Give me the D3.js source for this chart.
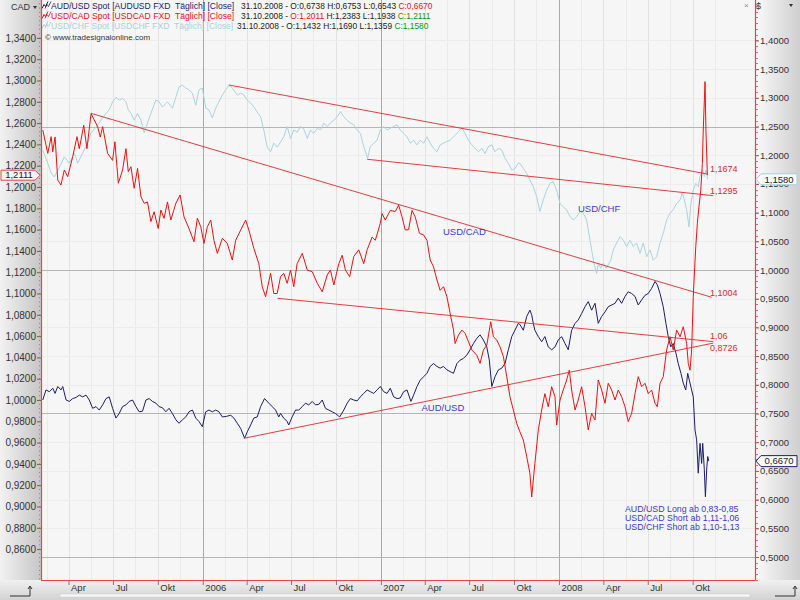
<!DOCTYPE html>
<html><head><meta charset="utf-8">
<script src="https://cdn.jsdelivr.net/npm/d3@7"></script>
<style>
body{margin:0;background:#fff}
svg{display:block}
text{font-family:"Liberation Sans",Arial,sans-serif}
</style>
</head><body>
<svg id="c" width="800" height="600"></svg>
<script>
// ---------------- DATA (time in decimal years) ----------------
const cadTime = [2005.102,2005.130,2005.149,2005.158,2005.171,2005.186,2005.204,2005.223,2005.242,2005.270,
2005.294,2005.307,2005.332,2005.350,2005.373,2005.391,2005.410,2005.425,2005.438,2005.466,
2005.494,2005.507,2005.526,2005.550,2005.569,2005.582,2005.597,2005.615,2005.634,2005.653,
2005.671,2005.690,2005.709,2005.727,2005.750,2005.765,2005.783,2005.802,2005.821,2005.849,
2005.873,2005.895,2005.923,2005.951,2005.970,2005.989,2006.007,2006.026,2006.045,2006.063,
2006.082,2006.110,2006.138,2006.166,2006.185,2006.213,2006.241,2006.259,2006.287,2006.315,
2006.334,2006.353,2006.381,2006.399,2006.418,2006.437,2006.455,2006.474,2006.493,2006.511,
2006.530,2006.559,2006.587,2006.615,2006.643,2006.671,2006.699,2006.717,2006.736,2006.764,
2006.783,2006.801,2006.825,2006.848,2006.876,2006.904,2006.923,2006.951,2006.969,2006.997,
2007.007,2007.025,2007.053,2007.081,2007.100,2007.119,2007.137,2007.156,2007.175,2007.193,
2007.217,2007.240,2007.259,2007.277,2007.296,2007.315,2007.333,2007.352,2007.371,2007.389,
2007.408,2007.417,2007.436,2007.455,2007.473,2007.492,2007.511,2007.539,2007.557,2007.576,
2007.595,2007.617,2007.632,2007.651,2007.669,2007.688,2007.707,2007.725,2007.744,2007.763,
2007.781,2007.800,2007.819,2007.837,2007.847,2007.865,2007.884,2007.903,2007.921,2007.940,
2007.959,2007.978,2007.987,2008.006,2008.024,2008.043,2008.058,2008.071,2008.090,2008.108,
2008.127,2008.146,2008.164,2008.183,2008.202,2008.220,2008.239,2008.258,2008.276,2008.295,
2008.314,2008.332,2008.351,2008.370,2008.388,2008.407,2008.426,2008.444,2008.463,2008.482,
2008.500,2008.519,2008.538,2008.551,2008.566,2008.584,2008.603,2008.622,2008.640,2008.659,
2008.678,2008.696,2008.715,2008.724,2008.734,2008.743,2008.752,2008.766,2008.775,2008.784,
2008.794,2008.803,2008.808,2008.818,2008.823,2008.831];
const cadValue = [1.2535,1.2316,1.2473,1.233,1.247,1.2066,1.2019,1.216,1.2097,1.2285,
1.2473,1.236,1.258,1.236,1.269,1.263,1.2567,1.247,1.2567,1.2316,
1.225,1.2425,1.2035,1.216,1.236,1.2144,1.219,1.1988,1.2175,1.191,
1.1847,1.186,1.1675,1.1768,1.161,1.1784,1.1706,1.186,1.169,1.1847,
1.1925,1.172,1.161,1.1486,1.1706,1.1627,1.147,1.1627,1.169,1.150,
1.1377,1.1518,1.147,1.1315,1.150,1.1596,1.169,1.1596,1.1424,1.128,
1.1064,1.097,1.119,1.100,1.100,1.1158,1.119,1.1096,1.122,1.1064,
1.128,1.1377,1.122,1.1205,1.1096,1.1017,1.1174,1.122,1.108,1.128,
1.136,1.122,1.1158,1.1347,1.141,1.128,1.141,1.153,1.150,1.166,
1.175,1.169,1.178,1.177,1.183,1.172,1.1596,1.160,1.178,1.172,
1.1565,1.155,1.150,1.1315,1.125,1.1127,1.103,1.1064,1.097,1.0814,
1.0657,1.053,1.061,1.0657,1.0626,1.0547,1.047,1.042,1.0344,1.047,
1.0516,1.0735,1.0594,1.0563,1.05,1.0407,1.0219,1.003,0.9906,0.978,
0.970,0.9624,0.9468,0.931,0.909,0.9405,0.9718,0.9906,1.006,0.9937,
1.0125,1.003,0.9765,1.000,1.0094,1.0188,1.028,1.0094,0.9906,1.000,
1.0125,0.9937,0.972,0.9875,0.9812,1.0188,1.0094,0.9969,1.0157,1.0094,
1.000,1.0094,1.003,0.9937,0.9797,0.9875,1.006,1.0219,1.0125,1.0157,
1.006,1.0094,0.9969,0.9937,1.0157,1.0219,1.047,1.0594,1.047,1.0657,
1.0594,1.0688,1.053,1.0344,1.028,1.047,1.097,1.144,1.166,1.1815,
1.197,1.222,1.2535,1.299,1.2535,1.2111];

const audTime = [2005.102,2005.120,2005.139,2005.158,2005.171,2005.186,2005.204,2005.214,2005.233,2005.251,
2005.270,2005.289,2005.307,2005.326,2005.345,2005.363,2005.382,2005.401,2005.419,2005.438,
2005.457,2005.475,2005.494,2005.513,2005.531,2005.550,2005.569,2005.587,2005.606,2005.625,
2005.643,2005.662,2005.681,2005.699,2005.718,2005.737,2005.755,2005.774,2005.793,2005.811,
2005.830,2005.849,2005.867,2005.886,2005.905,2005.923,2005.942,2005.961,2005.979,2005.998,
2006.017,2006.035,2006.054,2006.073,2006.091,2006.110,2006.134,2006.157,2006.175,2006.194,
2006.213,2006.235,2006.250,2006.269,2006.287,2006.306,2006.325,2006.347,2006.371,2006.390,
2006.409,2006.427,2006.437,2006.455,2006.474,2006.483,2006.502,2006.521,2006.539,2006.559,
2006.577,2006.595,2006.615,2006.633,2006.652,2006.671,2006.689,2006.708,2006.727,2006.745,
2006.769,2006.792,2006.811,2006.829,2006.848,2006.867,2006.885,2006.904,2006.923,2006.941,
2006.960,2006.979,2006.997,2007.016,2007.035,2007.053,2007.072,2007.091,2007.109,2007.128,
2007.147,2007.169,2007.184,2007.203,2007.221,2007.240,2007.259,2007.277,2007.296,2007.315,
2007.333,2007.352,2007.371,2007.389,2007.408,2007.427,2007.445,2007.464,2007.483,2007.501,
2007.520,2007.539,2007.557,2007.576,2007.595,2007.609,2007.623,2007.641,2007.660,2007.679,
2007.697,2007.716,2007.735,2007.753,2007.772,2007.781,2007.800,2007.819,2007.837,2007.847,
2007.856,2007.865,2007.884,2007.903,2007.921,2007.940,2007.959,2007.978,2007.996,2008.015,
2008.034,2008.052,2008.071,2008.090,2008.108,2008.127,2008.146,2008.164,2008.183,2008.202,
2008.220,2008.239,2008.258,2008.276,2008.295,2008.314,2008.332,2008.351,2008.370,2008.388,
2008.407,2008.426,2008.444,2008.463,2008.482,2008.500,2008.519,2008.538,2008.551,2008.566,
2008.584,2008.599,2008.612,2008.626,2008.640,2008.655,2008.668,2008.683,2008.696,2008.710,
2008.721,2008.730,2008.743,2008.752,2008.762,2008.771,2008.780,2008.790,2008.799,2008.805,
2008.814,2008.820,2008.828,2008.833,2008.839];
const audValue = [0.7735,0.791,0.788,0.794,0.785,0.797,0.791,0.797,0.7735,0.771,
0.776,0.778,0.782,0.779,0.782,0.7735,0.759,0.762,0.756,0.765,
0.776,0.779,0.759,0.742,0.750,0.762,0.765,0.771,0.7735,0.762,
0.753,0.754,0.7735,0.776,0.771,0.768,0.762,0.760,0.753,0.759,
0.750,0.739,0.733,0.739,0.744,0.753,0.756,0.742,0.736,0.727,
0.753,0.756,0.753,0.756,0.753,0.744,0.745,0.747,0.742,0.733,
0.724,0.707,0.718,0.730,0.742,0.744,0.762,0.776,0.768,0.762,
0.756,0.744,0.750,0.742,0.736,0.730,0.744,0.756,0.756,0.762,
0.768,0.765,0.771,0.765,0.766,0.7735,0.759,0.756,0.753,0.750,
0.744,0.756,0.768,0.776,0.7735,0.772,0.779,0.785,0.791,0.788,
0.785,0.791,0.797,0.788,0.785,0.794,0.779,0.776,0.777,0.788,
0.791,0.771,0.782,0.797,0.808,0.814,0.820,0.832,0.837,0.832,
0.829,0.832,0.826,0.823,0.820,0.837,0.843,0.846,0.852,0.861,
0.872,0.881,0.887,0.878,0.866,0.843,0.797,0.814,0.826,0.829,
0.837,0.861,0.884,0.895,0.907,0.905,0.895,0.919,0.930,0.922,
0.907,0.895,0.884,0.875,0.884,0.866,0.861,0.866,0.878,0.884,
0.872,0.861,0.895,0.907,0.913,0.924,0.936,0.945,0.930,0.942,
0.907,0.919,0.927,0.936,0.939,0.942,0.951,0.942,0.954,0.962,
0.959,0.954,0.939,0.948,0.956,0.959,0.968,0.980,0.974,0.959,
0.936,0.907,0.884,0.866,0.872,0.855,0.837,0.820,0.803,0.791,
0.820,0.808,0.791,0.779,0.721,0.704,0.646,0.698,0.663,0.698,
0.652,0.605,0.657,0.675,0.667];

const chfTime = [2005.102,2005.130,2005.149,2005.167,2005.195,2005.223,2005.251,2005.279,2005.298,2005.326,
2005.354,2005.373,2005.401,2005.429,2005.457,2005.475,2005.494,2005.513,2005.531,2005.550,
2005.569,2005.582,2005.597,2005.615,2005.634,2005.653,2005.671,2005.690,2005.709,2005.737,
2005.755,2005.774,2005.802,2005.830,2005.849,2005.867,2005.886,2005.905,2005.923,2005.942,
2005.961,2005.979,2005.998,2006.017,2006.035,2006.054,2006.073,2006.091,2006.110,2006.129,
2006.147,2006.166,2006.194,2006.213,2006.231,2006.250,2006.269,2006.287,2006.306,2006.325,
2006.343,2006.362,2006.381,2006.399,2006.418,2006.437,2006.455,2006.474,2006.493,2006.511,
2006.530,2006.549,2006.567,2006.587,2006.605,2006.623,2006.643,2006.661,2006.680,2006.699,
2006.717,2006.736,2006.755,2006.773,2006.792,2006.811,2006.829,2006.848,2006.867,2006.885,
2006.904,2006.926,2006.941,2006.960,2006.979,2006.997,2007.016,2007.035,2007.053,2007.072,
2007.091,2007.109,2007.128,2007.147,2007.165,2007.184,2007.203,2007.221,2007.240,2007.259,
2007.277,2007.296,2007.315,2007.333,2007.352,2007.371,2007.389,2007.408,2007.427,2007.455,
2007.473,2007.492,2007.511,2007.529,2007.548,2007.567,2007.585,2007.604,2007.623,2007.641,
2007.660,2007.679,2007.697,2007.716,2007.735,2007.753,2007.772,2007.781,2007.800,2007.819,
2007.837,2007.856,2007.875,2007.893,2007.912,2007.931,2007.950,2007.968,2007.987,2008.006,
2008.024,2008.043,2008.062,2008.080,2008.099,2008.118,2008.136,2008.155,2008.164,2008.174,
2008.183,2008.196,2008.211,2008.220,2008.234,2008.248,2008.263,2008.276,2008.290,2008.304,
2008.323,2008.342,2008.360,2008.379,2008.398,2008.416,2008.435,2008.454,2008.472,2008.491,
2008.510,2008.528,2008.547,2008.566,2008.584,2008.603,2008.622,2008.640,2008.659,2008.678,
2008.691,2008.702,2008.715,2008.728,2008.739,2008.752,2008.766,2008.780,2008.790,2008.805,
2008.814,2008.823,2008.833];
const chfValue = [1.209,1.186,1.169,1.162,1.179,1.197,1.186,1.204,1.186,1.204,
1.221,1.239,1.249,1.261,1.273,1.279,1.293,1.301,1.296,1.299,
1.293,1.279,1.273,1.261,1.273,1.261,1.239,1.256,1.273,1.296,
1.293,1.284,1.293,1.282,1.301,1.319,1.322,1.317,1.314,1.308,
1.287,1.314,1.317,1.282,1.279,1.265,1.282,1.293,1.305,1.314,
1.322,1.317,1.305,1.308,1.305,1.296,1.291,1.284,1.275,1.267,
1.244,1.214,1.206,1.221,1.214,1.223,1.232,1.250,1.229,1.244,
1.240,1.250,1.246,1.229,1.244,1.238,1.247,1.244,1.256,1.250,
1.256,1.261,1.267,1.276,1.267,1.261,1.256,1.253,1.244,1.238,
1.215,1.195,1.215,1.221,1.226,1.244,1.250,1.244,1.247,1.250,
1.253,1.244,1.238,1.232,1.221,1.226,1.218,1.226,1.221,1.232,
1.221,1.212,1.206,1.218,1.221,1.224,1.226,1.232,1.238,1.247,
1.238,1.226,1.218,1.212,1.206,1.212,1.203,1.215,1.218,1.206,
1.212,1.209,1.195,1.186,1.174,1.177,1.186,1.186,1.177,1.168,
1.157,1.145,1.128,1.102,1.122,1.139,1.151,1.154,1.139,1.116,
1.110,1.105,1.093,1.087,1.093,1.102,1.099,1.087,1.070,1.052,
1.035,1.012,0.994,1.012,1.003,1.012,1.003,1.009,1.017,1.035,
1.047,1.058,1.052,1.041,1.052,1.041,1.047,1.029,1.047,1.023,
1.035,1.017,1.023,1.047,1.064,1.087,1.099,1.105,1.116,1.122,
1.134,1.122,1.105,1.075,1.116,1.139,1.151,1.145,1.163,1.174,
1.163,1.174,1.158];

// trend lines drawn on the chart
const trendStartTime = [2006.147, 2006.923, 2005.373, 2006.420, 2006.231];
const trendStartValue = [1.3223, 1.1929, 1.2692, 1.0955, 0.7068];
const trendEndTime = [2008.827, 2008.864, 2008.855, 2008.864, 2008.864];
const trendEndValue = [1.1674, 1.1295, 1.0965, 1.0548, 0.8726];
const trendAxis = ["right", "right", "left", "left", "right"];
const trendLabels = ["1,1674", "1,1295", "1,1004", "1,06", "0,8726"];

// axis ticks
const leftTicks = [0.86,0.88,0.90,0.92,0.94,0.96,0.98,1.00,1.02,1.04,1.06,1.08,1.10,1.12,1.14,1.16,1.18,1.20,1.22,1.24,1.26,1.28,1.30,1.32,1.34];
const rightTicks = [0.50,0.55,0.60,0.65,0.70,0.75,0.80,0.85,0.90,0.95,1.00,1.05,1.10,1.15,1.20,1.25,1.30,1.35,1.40];
const rightMajorGrid = [0.50,0.75,1.00,1.25];
const quarterDates = ["2005-04-01","2005-07-01","2005-10-01","2006-01-01","2006-04-01","2006-07-01","2006-10-01","2007-01-01","2007-04-01","2007-07-01","2007-10-01","2008-01-01","2008-04-01","2008-07-01","2008-10-01"];
const quarterLabels = ["Apr","Jul","Okt","2006","Apr","Jul","Okt","2007","Apr","Jul","Okt","2008","Apr","Jul","Okt"];
const yearDates = ["2006-01-01","2007-01-01","2008-01-01"];

// legend / texts
const legendNames = ["AUD/USD Spot [AUDUSD FXD  Täglich] [Close]","USD/CAD Spot [USDCAD FXD  Täglich] [Close]","USD/CHF Spot [USDCHF FXD  Täglich] [Close]"];
const legendDate = "31.10.2008";
const legendO = ["O:0,6738","O:1,2011","O:1,1432"];
const legendH = ["H:0,6753","H:1,2383","H:1,1690"];
const legendL = ["L:0,6543","L:1,1938","L:1,1359"];
const legendC = ["C:0,6670","C:1,2111","C:1,1580"];
const lastValues = {cad: 1.2111, aud: 0.6670, chf: 1.1580};
const noteLines = ["AUD/USD Long ab 0,83-0,85","USD/CAD Short ab 1,11-1,06","USD/CHF Short ab 1,10-1,13"];

// ---------------- STYLE ----------------
const COL = {cad:"#f01010", aud:"#1c1c6c", chf:"#a9d4e0", trend:"#e02a2a", note:"#3b3bd0", axis:"#e24848", tickText:"#333"};
const plot = {l:41, r:755, t:0, b:580};

const yd = t => { const y = Math.floor(t); const s = Date.UTC(y,0,1), e = Date.UTC(y+1,0,1); return new Date(s + (t-y)*(e-s)); };
const x = d3.scaleUtc().domain([yd(2005.092), yd(2009.098)]).range([plot.l, plot.r]);
const yL = d3.scaleLinear().domain([0.831, 1.3756]).range([plot.b, plot.t]);
const yR = d3.scaleLinear().domain([0.4599, 1.4704]).range([plot.b, plot.t]);
const fmt4 = d => d3.format(".4f")(d).replace(".", ",");

const svg = d3.select("#c");
const defs = svg.append("defs");
const gl = defs.append("linearGradient").attr("id","gLeft").attr("x1",0).attr("x2",1).attr("y1",0).attr("y2",0);
gl.append("stop").attr("offset","0%").attr("stop-color","#f2f2f2");
gl.append("stop").attr("offset","100%").attr("stop-color","#c6c6c6");
const gr = defs.append("linearGradient").attr("id","gRight").attr("x1",0).attr("x2",1).attr("y1",0).attr("y2",0);
gr.append("stop").attr("offset","0%").attr("stop-color","#fafafa");
gr.append("stop").attr("offset","100%").attr("stop-color","#cfcfcf");
const gb = defs.append("linearGradient").attr("id","gBot").attr("x1",0).attr("x2",0).attr("y1",0).attr("y2",1);
gb.append("stop").attr("offset","0%").attr("stop-color","#f0f0f0");
gb.append("stop").attr("offset","100%").attr("stop-color","#d2d2d2");
defs.append("clipPath").attr("id","clip").append("rect").attr("x",plot.l).attr("y",plot.t).attr("width",plot.r-plot.l).attr("height",plot.b-plot.t);

svg.append("rect").attr("width",800).attr("height",600).attr("fill","#fff");
svg.append("rect").attr("x",0).attr("y",0).attr("width",plot.l).attr("height",plot.b).attr("fill","url(#gLeft)");
svg.append("rect").attr("x",plot.r).attr("y",0).attr("width",800-plot.r).attr("height",plot.b).attr("fill","url(#gRight)");
svg.append("rect").attr("x",0).attr("y",plot.b).attr("width",800).attr("height",600-plot.b).attr("fill","url(#gBot)");
svg.append("rect").attr("x",plot.l).attr("y",plot.t).attr("width",plot.r-plot.l).attr("height",plot.b-plot.t).attr("fill","#f6f6f6");

// faint grid
const grid = svg.append("g").attr("clip-path","url(#clip)");
const qDates = quarterDates.map(d => new Date(d));
const midQuarter = [new Date("2005-02-15")].concat(qDates.map(d => d3.utcDay.offset(d, 46)));
grid.selectAll(".fm").data(midQuarter).enter().append("line")
  .attr("x1",d=>Math.round(x(d))+0.5).attr("x2",d=>Math.round(x(d))+0.5).attr("y1",plot.t).attr("y2",plot.b)
  .attr("stroke","#ebebeb").attr("stroke-width",1);
grid.selectAll(".fq").data(qDates).enter().append("line")
  .attr("x1",d=>Math.round(x(d))+0.5).attr("x2",d=>Math.round(x(d))+0.5).attr("y1",plot.t).attr("y2",plot.b)
  .attr("stroke","#e2e2e2").attr("stroke-width",1);
grid.selectAll(".fh").data(rightTicks).enter().append("line")
  .attr("x1",plot.l).attr("x2",plot.r).attr("y1",d=>Math.round(yR(d))+0.5).attr("y2",d=>Math.round(yR(d))+0.5)
  .attr("stroke","#ededed").attr("stroke-width",1);
grid.selectAll(".gy").data(yearDates.map(d=>new Date(d))).enter().append("line")
  .attr("x1",d=>Math.round(x(d))+0.5).attr("x2",d=>Math.round(x(d))+0.5).attr("y1",plot.t).attr("y2",plot.b)
  .attr("stroke","#a9a9a9").attr("stroke-width",1);
grid.selectAll(".gh").data(rightMajorGrid).enter().append("line")
  .attr("x1",plot.l).attr("x2",plot.r).attr("y1",d=>Math.round(yR(d))+0.5).attr("y2",d=>Math.round(yR(d))+0.5)
  .attr("stroke","#b5b5b5").attr("stroke-width",1);

// series
const series = [
  {t:chfTime, v:chfValue, y:yR, c:COL.chf},
  {t:audTime, v:audValue, y:yR, c:COL.aud},
  {t:cadTime, v:cadValue, y:yL, c:COL.cad}
];
const sg = svg.append("g").attr("clip-path","url(#clip)");
series.forEach(s => {
  const pts = d3.range(Math.min(s.t.length, s.v.length)).map(i => [yd(s.t[i]), s.v[i]]);
  const line = d3.line().x(d => x(d[0])).y(d => s.y(d[1]));
  sg.append("path").datum(pts).attr("d", line).attr("fill","none").attr("stroke", s.c).attr("stroke-width",1).attr("stroke-linejoin","round");
});

// trend lines
const trendDy = [-1.5, -1.7, -1.2, -2.6, 7.4];
trendStartTime.forEach((t0,i) => {
  const sc = trendAxis[i] === "left" ? yL : yR;
  const x0 = x(yd(t0)), y0 = sc(trendStartValue[i]);
  const x1 = x(yd(trendEndTime[i])), y1 = sc(trendEndValue[i]);
  sg.append("line").attr("x1",x0).attr("y1",y0).attr("x2",x1).attr("y2",y1).attr("stroke",COL.trend).attr("stroke-width",0.9);
  svg.append("text").attr("x", 710).attr("y", y1 + trendDy[i]).attr("font-size",9).attr("fill",COL.trend).text(trendLabels[i]);
});

// annotations
const ann = [["USD/CHF",578,211.5],["USD/CAD",443,234.5],["AUD/USD",421.5,411]];
ann.forEach(a => svg.append("text").attr("x",a[1]).attr("y",a[2]).attr("font-size",9.5).attr("fill",COL.note).text(a[0]));
noteLines.forEach((s,i) => svg.append("text").attr("x",625).attr("y",511.5 + i*9).attr("font-size",8.8).attr("fill",COL.note).text(s));

// watermark
svg.append("text").attr("x",45).attr("y",39.5).attr("font-size",8).attr("fill","#333").text("\u00a9 www.tradesignalonline.com");

// legend
const legCols = [COL.aud, COL.cad, "#9fcfdc"];
const oCols = ["#222", COL.cad, "#222"];
const cCols = [COL.cad, "#0a9a0a", "#0a9a0a"];
const numX = [241, 241, 237];
legendNames.forEach((n,i) => {
  const yb = 8.5 + i*10;
  svg.append("path").attr("d", `M42,${yb} L44,${yb-4} L45.5,${yb-2} L48,${yb-7}`).attr("fill","none").attr("stroke",legCols[i]).attr("stroke-width",1);
  svg.append("path").attr("d", `M45,${yb} L47,${yb-4} L48.5,${yb-2} L51,${yb-7}`).attr("fill","none").attr("stroke",legCols[i]).attr("stroke-width",0.8);
  svg.append("text").attr("x",51).attr("y",yb).attr("font-size",8.6).attr("xml:space","preserve").style("white-space","pre")
    .attr("fill", i===2 ? "#a6d2de" : legCols[i]).text(n);
  const t = svg.append("text").attr("x",numX[i]).attr("y",yb).attr("font-size",8.4).attr("xml:space","preserve").style("white-space","pre");
  t.append("tspan").attr("fill","#222").text(legendDate + " - ");
  t.append("tspan").attr("fill",oCols[i]).text(legendO[i]);
  t.append("tspan").attr("fill","#222").text(" " + legendH[i] + " " + legendL[i] + " ");
  t.append("tspan").attr("fill",cCols[i]).text(legendC[i]);
});

// axes
const axL = d3.axisLeft(yL).tickValues(leftTicks).tickFormat(fmt4).tickSize(4).tickPadding(1);
const gL = svg.append("g").attr("transform",`translate(${plot.l},0)`).call(axL);
gL.select(".domain").remove();
gL.selectAll("line").attr("stroke","#666");
gL.selectAll("text").attr("font-size",10).attr("fill",COL.tickText).attr("font-family","Liberation Sans, Arial, sans-serif");
svg.append("g").selectAll("line").data(d3.range(0.832, 1.376, 0.004)).enter().append("line")
  .attr("x1",plot.l-2).attr("x2",plot.l-1).attr("y1",d=>yL(d)).attr("y2",d=>yL(d)).attr("stroke","#777").attr("stroke-width",0.8);

const axR = d3.axisRight(yR).tickValues(rightTicks).tickFormat(fmt4).tickSize(4).tickPadding(1);
const gR = svg.append("g").attr("transform",`translate(${plot.r},0)`).call(axR);
gR.select(".domain").remove();
gR.selectAll("line").attr("stroke","#666");
gR.selectAll("text").attr("font-size",9.5).attr("fill",COL.tickText).attr("font-family","Liberation Sans, Arial, sans-serif");
svg.append("g").selectAll("line").data(d3.range(0.46, 1.47, 0.01)).enter().append("line")
  .attr("x1",plot.r).attr("x2",plot.r+3).attr("y1",d=>Math.round(yR(d))+0.5).attr("y2",d=>Math.round(yR(d))+0.5).attr("stroke",COL.axis).attr("stroke-width",0.8);

const axB = d3.axisBottom(x).tickValues(qDates).tickFormat((d,i)=>quarterLabels[i]).tickSize(5).tickPadding(0);
const gB = svg.append("g").attr("transform",`translate(0,${plot.b})`).call(axB);
gB.select(".domain").remove();
gB.selectAll("line").attr("stroke","#777");
gB.selectAll("text").attr("font-size",9.5).attr("fill",COL.tickText).attr("text-anchor","start").attr("x",2).attr("y",4).attr("font-family","Liberation Sans, Arial, sans-serif");

// frame lines
svg.append("line").attr("x1",plot.l+0.5).attr("x2",plot.l+0.5).attr("y1",0).attr("y2",plot.b).attr("stroke",COL.axis).attr("stroke-width",1.2);
svg.append("line").attr("x1",plot.r+0.5).attr("x2",plot.r+0.5).attr("y1",0).attr("y2",plot.b).attr("stroke",COL.axis).attr("stroke-width",1.2);
svg.append("line").attr("x1",plot.l).attr("x2",plot.r).attr("y1",plot.b+0.5).attr("y2",plot.b+0.5).attr("stroke",COL.axis).attr("stroke-width",1.2);

// scrollbar hint
svg.append("rect").attr("x",60).attr("y",594).attr("width",690).attr("height",3).attr("fill","#f7f7f7").attr("stroke","#c8c8c8").attr("stroke-width",0.5);

// corner icons
[[10,30],[775,795]].forEach(([a,b]) => {
  svg.append("path").attr("d",`M${a},596 H${b} V587`).attr("fill","none").attr("stroke","#333").attr("stroke-width",1);
  svg.append("path").attr("d",`M${b-2},589 L${b},586 L${b+2},589`).attr("fill","none").attr("stroke","#333").attr("stroke-width",1);
});

// headers
svg.append("text").attr("x",11).attr("y",10).attr("font-size",9).attr("fill","#333").text("CAD");
svg.append("path").attr("d","M33,6 L37,6 L35,9 Z").attr("fill","#333");
svg.append("text").attr("x",744).attr("y",8).attr("font-size",8).attr("fill","#888").text("\u00d7");
svg.append("text").attr("x",756).attr("y",9).attr("font-size",9).attr("fill","#333").text("$");
svg.append("path").attr("d","M789,4 L793,4 L791,7 Z").attr("fill","#333");

// last value boxes
const ly = yL(lastValues.cad);
svg.append("path").attr("d",`M1,${ly-5} H35 L40,${ly} L35,${ly+5} H1 Z`).attr("fill","#f5f5f5").attr("stroke",COL.axis).attr("stroke-width",1);
svg.append("text").attr("x",19).attr("y",ly+3.3).attr("text-anchor","middle").attr("font-size",9.5).attr("fill","#222").text(fmt4(lastValues.cad));
[[lastValues.chf, "#9fcfdc"],[lastValues.aud, COL.aud]].forEach(([v,c]) => {
  const yy = yR(v);
  svg.append("path").attr("d",`M756,${yy} L761,${yy-5.5} H797 V${yy+5.5} H761 Z`).attr("fill","#fbfbfb").attr("stroke",c).attr("stroke-width",1);
  svg.append("text").attr("x",779).attr("y",yy+3.3).attr("text-anchor","middle").attr("font-size",9.5).attr("fill","#222").text(fmt4(v));
});
</script>
</body></html>
